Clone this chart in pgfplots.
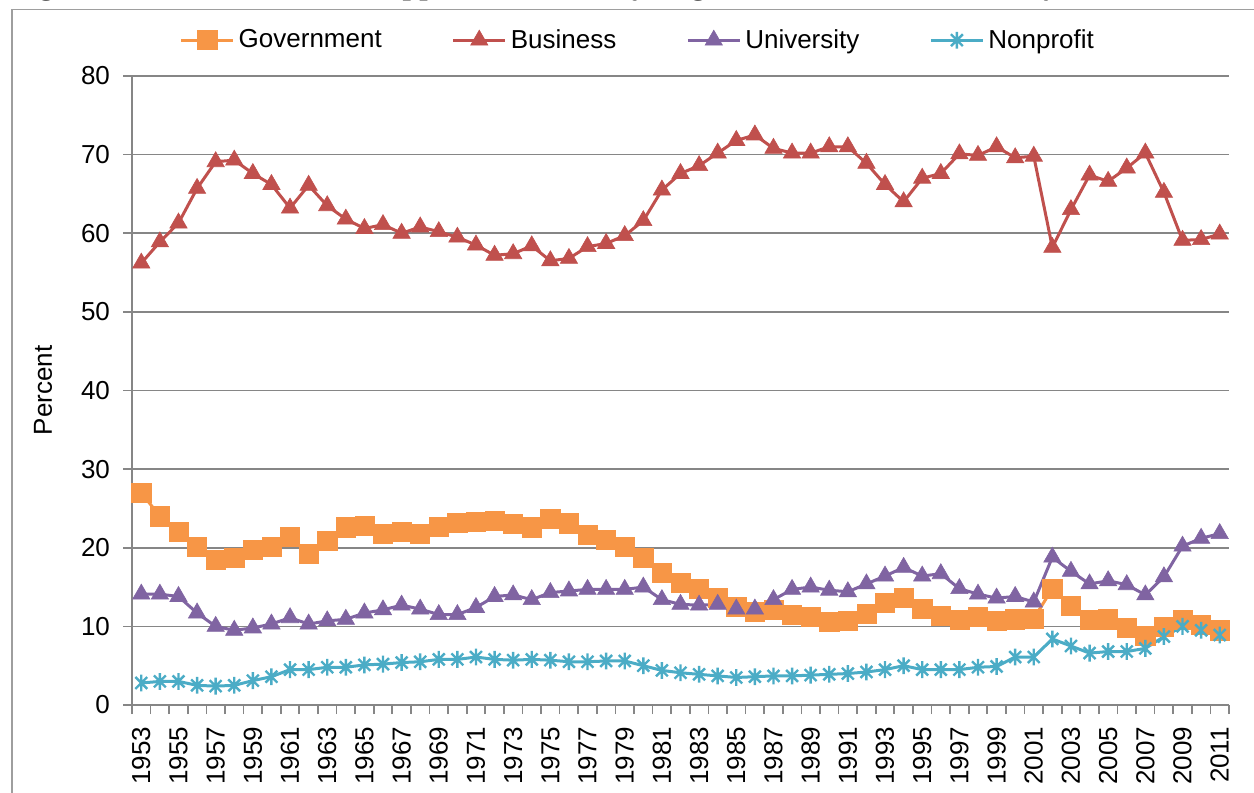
\documentclass[border=0pt]{standalone}
\usepackage{fontspec}
\setmainfont{Liberation Sans}
\newfontfamily\capfont{Liberation Serif}
\usepackage{pgfplots}
\usepackage{pgfplotstable}
\pgfplotsset{compat=1.18}

\definecolor{govc}{RGB}{247,150,70}
\definecolor{busc}{RGB}{192,80,77}
\definecolor{unic}{RGB}{128,100,162}
\definecolor{nonc}{RGB}{75,172,198}
\definecolor{gridc}{RGB}{134,134,134}

% Excel style star: vertical bar plus an x
\pgfdeclareplotmark{xstar}{%
  \pgfpathmoveto{\pgfqpoint{0pt}{\pgfplotmarksize}}%
  \pgfpathlineto{\pgfqpoint{0pt}{-\pgfplotmarksize}}%
  \pgfpathmoveto{\pgfqpoint{-.7071\pgfplotmarksize}{-.7071\pgfplotmarksize}}%
  \pgfpathlineto{\pgfqpoint{.7071\pgfplotmarksize}{.7071\pgfplotmarksize}}%
  \pgfpathmoveto{\pgfqpoint{-.7071\pgfplotmarksize}{.7071\pgfplotmarksize}}%
  \pgfpathlineto{\pgfqpoint{.7071\pgfplotmarksize}{-.7071\pgfplotmarksize}}%
  \pgfusepathqstroke}

% year  government  business  university  nonprofit
\pgfplotstableread{
year gov bus uni non
1953 27.0 56.2 14.1 2.8
1954 24.0 58.9 14.1 3.0
1955 22.0 61.3 13.8 3.0
1956 20.1 65.7 11.7 2.5
1957 18.5 69.1 10.0 2.4
1958 18.7 69.3 9.5 2.5
1959 19.7 67.6 9.8 3.1
1960 20.1 66.2 10.3 3.6
1961 21.4 63.2 11.1 4.5
1962 19.2 66.1 10.3 4.5
1963 20.9 63.5 10.7 4.8
1964 22.6 61.8 10.9 4.8
1965 22.8 60.6 11.7 5.1
1966 21.8 61.1 12.1 5.2
1967 22.0 60.0 12.7 5.4
1968 21.8 60.8 12.2 5.5
1969 22.7 60.2 11.5 5.8
1970 23.2 59.5 11.5 5.8
1971 23.3 58.5 12.4 6.1
1972 23.4 57.2 13.8 5.8
1973 23.0 57.4 14.0 5.7
1974 22.6 58.4 13.4 5.8
1975 23.7 56.5 14.3 5.7
1976 23.1 56.8 14.5 5.5
1977 21.6 58.3 14.7 5.5
1978 21.0 58.7 14.7 5.6
1979 20.1 59.7 14.7 5.6
1980 18.7 61.6 15.0 5.0
1981 16.8 65.5 13.4 4.4
1982 15.5 67.6 12.8 4.1
1983 14.8 68.6 12.7 3.9
1984 13.6 70.2 12.8 3.7
1985 12.5 71.8 12.2 3.5
1986 11.9 72.5 12.2 3.6
1987 12.1 70.8 13.4 3.7
1988 11.5 70.2 14.7 3.7
1989 11.2 70.2 15.0 3.8
1990 10.6 71.0 14.6 3.9
1991 10.7 71.0 14.4 4.0
1992 11.6 68.9 15.4 4.2
1993 13.0 66.2 16.4 4.5
1994 13.6 64.0 17.5 5.0
1995 12.2 67.0 16.4 4.5
1996 11.3 67.6 16.7 4.5
1997 10.8 70.1 14.8 4.5
1998 11.2 69.9 14.1 4.8
1999 10.7 71.0 13.6 4.9
2000 10.9 69.6 13.8 6.1
2001 11.0 69.8 13.1 6.1
2002 14.8 58.2 18.8 8.4
2003 12.6 63.0 17.0 7.5
2004 10.8 67.4 15.4 6.6
2005 10.9 66.6 15.8 6.8
2006 9.8 68.3 15.3 6.8
2007 8.8 70.2 14.0 7.2
2008 9.9 65.2 16.3 8.7
2009 10.8 59.1 20.2 10.0
2010 10.2 59.2 21.2 9.5
2011 9.5 59.9 21.8 8.9
}\datatable

\begin{document}
\begin{tikzpicture}
\begin{axis}[
    at={(0,0)}, anchor=south west,
    scale only axis,
    width=548.5pt, height=314.5pt,
    xmin=1952.5, xmax=2011.5,
    ymin=0, ymax=80,
    ytick={0,10,...,80},
    xtick={1953,1955,...,2011},
    minor xtick={1952.5,1953.5,...,2011.5},
    major x tick style={draw=none},
    minor tick length=4.5pt,
    major tick length=4.5pt,
    tick align=outside,
    xtick pos=lower, ytick pos=left,
    ymajorgrids,
    grid style={gridc, line width=0.85pt},
    axis line style={gridc, line width=0.85pt},
    tick style={gridc, line width=0.85pt},
    axis x line*=bottom, axis y line*=left,
    /pgf/number format/1000 sep={},
    /pgf/number format/assume math mode=true,
    tick label style={font=\fontsize{13}{15}\selectfont, black},
    xticklabel style={rotate=90, anchor=east},
    xticklabel shift=3pt,
    yticklabel style={xshift=-3pt},
    ylabel={Percent},
    every axis y label/.style={at={(axis description cs:0,0.5)}, xshift=-44.5pt, rotate=90, anchor=center, font=\fontsize{13}{15}\selectfont},
    legend columns=4,
    legend style={draw=none, fill=none, font=\fontsize{13}{15}\selectfont,
      at={(0.462,1.057)}, anchor=center,
      /tikz/every even column/.append style={column sep=33pt}},
    legend image code/.code={\draw[mark repeat=2,mark phase=2] plot coordinates {(0pt,0pt)(13pt,0pt)(26pt,0pt)};},
    clip=false,
]
\addplot[govc, line width=1.5pt, mark=square*, mark size=4.8pt, mark options={solid, fill=govc, draw=govc, line width=0.3pt}]
  table[x=year, y=gov] {\datatable};
\addlegendentry{Government}
\addplot[busc, line width=1.5pt, mark=triangle*, mark size=5pt, mark options={solid, fill=busc, draw=busc, line width=0.3pt}]
  table[x=year, y=bus] {\datatable};
\addlegendentry{Business}
\addplot[unic, line width=1.5pt, mark=triangle*, mark size=5pt, mark options={solid, fill=unic, draw=unic, line width=0.3pt}]
  table[x=year, y=uni] {\datatable};
\addlegendentry{University}
\addplot[nonc, line width=1.5pt, mark=xstar, mark size=4.2pt, mark options={solid, draw=nonc, line width=1.2pt}]
  table[x=year, y=non] {\datatable};
\addlegendentry{Nonprofit}
\end{axis}
% frame of the chart area and the cut-off caption above it
\draw[gridc!80, line width=0.6pt] (-60pt,-60pt) -- (-60pt,347.85pt) -- (600pt,347.85pt);
\node[anchor=base west, inner sep=0pt, font=\capfont\bfseries\fontsize{15}{18}\selectfont]
  at (-60pt,355pt) {Figure 4. The Performers of Applied Research by Organization, Percent Share by Year, 1953–2011};
\pgfresetboundingbox
\path[use as bounding box] (-66pt,-44pt) rectangle (561pt,352.5pt);
\end{tikzpicture}
\end{document}
